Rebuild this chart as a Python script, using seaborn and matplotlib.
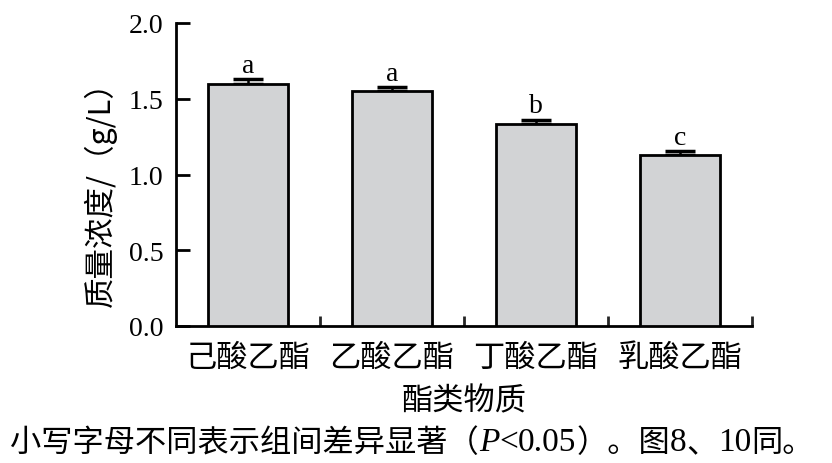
import matplotlib
matplotlib.use("Agg")
import matplotlib.pyplot as plt
import seaborn as sns
import pandas as pd
import numpy as np

categories = ["己酸乙酯", "乙酸乙酯", "丁酸乙酯", "乳酸乙酯"]
values = [1.60, 1.55, 1.333, 1.132]
errors = [0.03, 0.025, 0.03, 0.02]
letters = ["a", "a", "b", "c"]
yticks = [0.0, 0.5, 1.0, 1.5, 2.0]

sns.set_theme(style="white")
plt.rcParams["font.family"] = ["Liberation Serif", "Noto Sans CJK SC"]
cjk = ["Noto Sans CJK SC", "Liberation Serif"]
serif = ["Liberation Serif", "Noto Sans CJK SC"]

df = pd.DataFrame({"cat": categories, "val": values})

fig = plt.figure(figsize=(8.32, 4.64), dpi=100)
ax = fig.add_axes([176/832, 1-327/464, (752-176)/832, (327-24)/464])

sns.barplot(data=df, x="cat", y="val", color="#d2d3d5", edgecolor="black",
            linewidth=2.0, width=0.56, saturation=1, errorbar=None, ax=ax, zorder=3)
xs = np.arange(len(categories))
ax.errorbar(xs, values, yerr=[np.zeros(len(errors)), errors], fmt="none",
            ecolor="black", elinewidth=1.8, capsize=11, capthick=2.5, zorder=2)
for x, v, e, l in zip(xs, values, errors, letters):
    ax.text(x, v + e + 0.01, l, ha="center", va="bottom", fontsize=20,
            family=serif, color="black")

ax.set_xlim(-0.5, 3.5)
ax.set_ylim(0, 2.0)
ax.set_yticks(yticks)
ax.set_yticklabels([f"{t:.1f}" for t in yticks], fontsize=20, family=serif)
ax.set_xticks(xs)
ax.set_xticklabels(categories, fontsize=22.5, family=cjk)
ax.set_xticks(np.arange(0.5, 4.0, 1.0), minor=True)
ax.tick_params(axis="x", which="major", length=0, pad=11, colors="black")
ax.tick_params(axis="x", which="minor", length=7, width=2, direction="in", bottom=True)
ax.tick_params(axis="y", which="major", length=10, width=2, direction="in", left=True, pad=9, colors="black")
for s in ["top", "right"]:
    ax.spines[s].set_visible(False)
for s in ["left", "bottom"]:
    ax.spines[s].set_color("black")
    ax.spines[s].set_linewidth(2.0)

ax.set_xlabel("酯类物质", fontsize=22.5, family=cjk, color="black", labelpad=8)
ax.set_ylabel("质量浓度/（g/L）", fontsize=22, family=cjk, color="black")
ax.yaxis.set_label_coords((117-176)/576, (327-187)/303)

# caption, built from pieces chained left to right
pieces = [
    ("小写字母不同表示组间差异显著（", cjk, 22.5, "normal"),
    ("P", serif, 24, "italic"),
    ("<", serif, 24, "normal"),
    ("0.05", serif, 24, "normal"),
    ("）。图", cjk, 22.5, "normal"),
    ("8", serif, 24, "normal"),
    ("、", cjk, 22.5, "normal"),
    ("10", serif, 24, "normal"),
    ("同。", cjk, 22.5, "normal"),
]
last = None
for s, fam, size, sty in pieces:
    if last is None:
        last = fig.text(10/832, 1-443/464, s, fontsize=size, family=fam, style=sty,
                        ha="left", va="center", color="black")
    else:
        last = ax.annotate(s, xy=(1, 0.5), xycoords=last, xytext=(0, 0),
                           textcoords="offset points", fontsize=size, family=fam,
                           style=sty, ha="left", va="center", color="black",
                           annotation_clip=False)

fig.savefig("out.png", dpi=100, facecolor="white")
